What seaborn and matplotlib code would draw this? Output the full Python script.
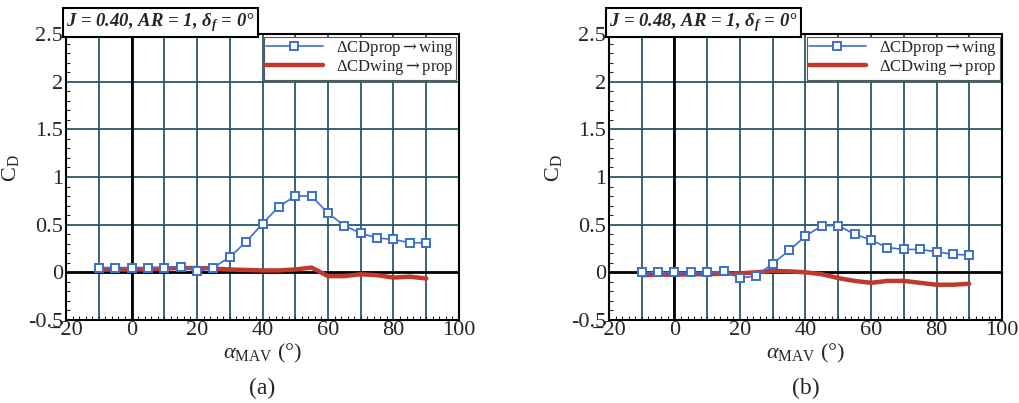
import numpy as np
import pandas as pd
import matplotlib
matplotlib.use("Agg")
import matplotlib.pyplot as plt
from matplotlib.ticker import MultipleLocator
import seaborn as sns

alpha = [-10, -5, 0, 5, 10, 15, 20, 25, 30, 35, 40, 45, 50, 55, 60, 65, 70, 75, 80, 85, 90]

prop_wing_a = [0.05, 0.05, 0.05, 0.05, 0.05, 0.06, 0.01, 0.05, 0.16, 0.32, 0.51, 0.69, 0.80, 0.80,
               0.62, 0.49, 0.41, 0.36, 0.345, 0.31, 0.31]
wing_prop_a = [0.03, 0.03, 0.03, 0.035, 0.04, 0.045, 0.045, 0.04, 0.03, 0.025, 0.02, 0.02, 0.03, 0.05,
               -0.04, -0.04, -0.02, -0.03, -0.055, -0.045, -0.065]

prop_wing_b = [0.0, 0.0, 0.0, 0.0, 0.0, 0.01, -0.06, -0.035, 0.09, 0.23, 0.38, 0.49, 0.49, 0.40,
               0.34, 0.26, 0.24, 0.24, 0.215, 0.19, 0.18]
wing_prop_b = [-0.03, -0.025, -0.025, -0.02, -0.02, -0.015, -0.01, 0.0, 0.015, 0.01, 0.0, -0.02, -0.06,
               -0.09, -0.11, -0.09, -0.09, -0.11, -0.13, -0.13, -0.12]

titles = ["J = 0.40, AR = 1, $\\mathbf{\\delta_f}$ = 0°", "J = 0.48, AR = 1, $\\mathbf{\\delta_f}$ = 0°"]
captions = ["(a)", "(b)"]
label_pw = "$\\mathrm{\\Delta CDprop}\\mathsf{\\rightarrow}\\mathrm{wing}$"
label_wp = "$\\mathrm{\\Delta CDwing}\\mathsf{\\rightarrow}\\mathrm{prop}$"

sns.set_style("white")
plt.rcParams['font.family'] = ['Liberation Serif', 'DejaVu Serif']
plt.rcParams['mathtext.fontset'] = 'custom'
plt.rcParams['mathtext.rm'] = 'Liberation Serif'
plt.rcParams['mathtext.it'] = 'Liberation Serif:italic'
plt.rcParams['mathtext.bf'] = 'Liberation Serif:bold:italic'
plt.rcParams['mathtext.sf'] = 'DejaVu Serif'

fig = plt.figure(figsize=(10.2, 4.03), dpi=100)
positions = [[66/1020, 1-320/403, (459-66)/1020, 286/403],
             [609/1020, 1-320/403, (1002-609)/1020, 286/403]]

gridc = '#2c5866'
blue = '#3c6fd0'
red = '#c0392b'

datasets = [(prop_wing_a, wing_prop_a), (prop_wing_b, wing_prop_b)]
for i, (pw, wp) in enumerate(datasets):
    ax = fig.add_axes(positions[i])
    df = pd.DataFrame({'alpha': alpha, 'pw': pw, 'wp': wp})
    for xv in np.arange(-10, 100, 10):
        ax.axvline(xv, color=gridc, lw=1.3, zorder=0)
    for yv in [0.5, 1.0, 1.5, 2.0]:
        ax.axhline(yv, color=gridc, lw=1.3, zorder=0)
    ax.axvline(0, color='black', lw=2.0, zorder=1)
    ax.axhline(0, color='black', lw=2.0, zorder=1)
    sns.lineplot(data=df, x='alpha', y='wp', ax=ax, color=red, lw=3.2, label=label_wp, zorder=3)
    sns.lineplot(data=df, x='alpha', y='pw', ax=ax, color=blue, lw=1.2, marker='s', markersize=6,
                 markerfacecolor='white', markeredgecolor=blue, markeredgewidth=1.4,
                 label=label_pw, zorder=4)
    ax.set_xlim(-20, 100)
    ax.set_ylim(-0.5, 2.5)
    ax.xaxis.set_major_locator(MultipleLocator(20))
    ax.xaxis.set_minor_locator(MultipleLocator(2))
    ax.yaxis.set_minor_locator(MultipleLocator(0.1))
    ax.set_yticks([-0.5, 0, 0.5, 1, 1.5, 2, 2.5])
    ax.set_yticklabels(['-0.5', '0', '0.5', '1', '1.5', '2', '2.5'])
    ax.tick_params(which='both', direction='in', top=False, right=False, labelsize=16)
    ax.tick_params(which='major', length=6, width=1.0)
    ax.tick_params(which='minor', length=3, width=0.8, bottom=True, left=True)
    ax.tick_params(axis='x', pad=1)
    ax.tick_params(axis='y', pad=2)
    for sp in ax.spines.values():
        sp.set_visible(True)
        sp.set_color('black')
        sp.set_linewidth(1.5)
    ax.set_xlabel(r'$\alpha_{\mathrm{MAV}}$ (°)', fontsize=16, labelpad=1)
    ax.set_ylabel(r'$\mathrm{C_D}$', fontsize=16)
    ax.yaxis.set_label_coords(-0.115, 0.53)
    handles, labels = ax.get_legend_handles_labels()
    order = [labels.index(label_pw), labels.index(label_wp)]
    leg = ax.legend([handles[k] for k in order], [labels[k] for k in order],
                    loc='upper right', fontsize=12, frameon=True, fancybox=False,
                    edgecolor='#555555', framealpha=1, borderpad=0.15, labelspacing=0.0,
                    handlelength=3.4, handletextpad=0.8, borderaxespad=0.15, markerfirst=True)
    leg.get_frame().set_linewidth(0.8)
    ax.text(0.0, 1.0, titles[i], transform=ax.transAxes,
            fontsize=13.5, fontweight='bold', style='italic', ha='left', va='bottom',
            bbox=dict(boxstyle='square,pad=0.18', fc='white', ec='black', lw=1.5))
    cx = positions[i][0] + positions[i][2] / 2
    fig.text(cx, 1 - 388/403, captions[i], ha='center', va='center', fontsize=17)

fig.savefig('out.png', dpi=100)
